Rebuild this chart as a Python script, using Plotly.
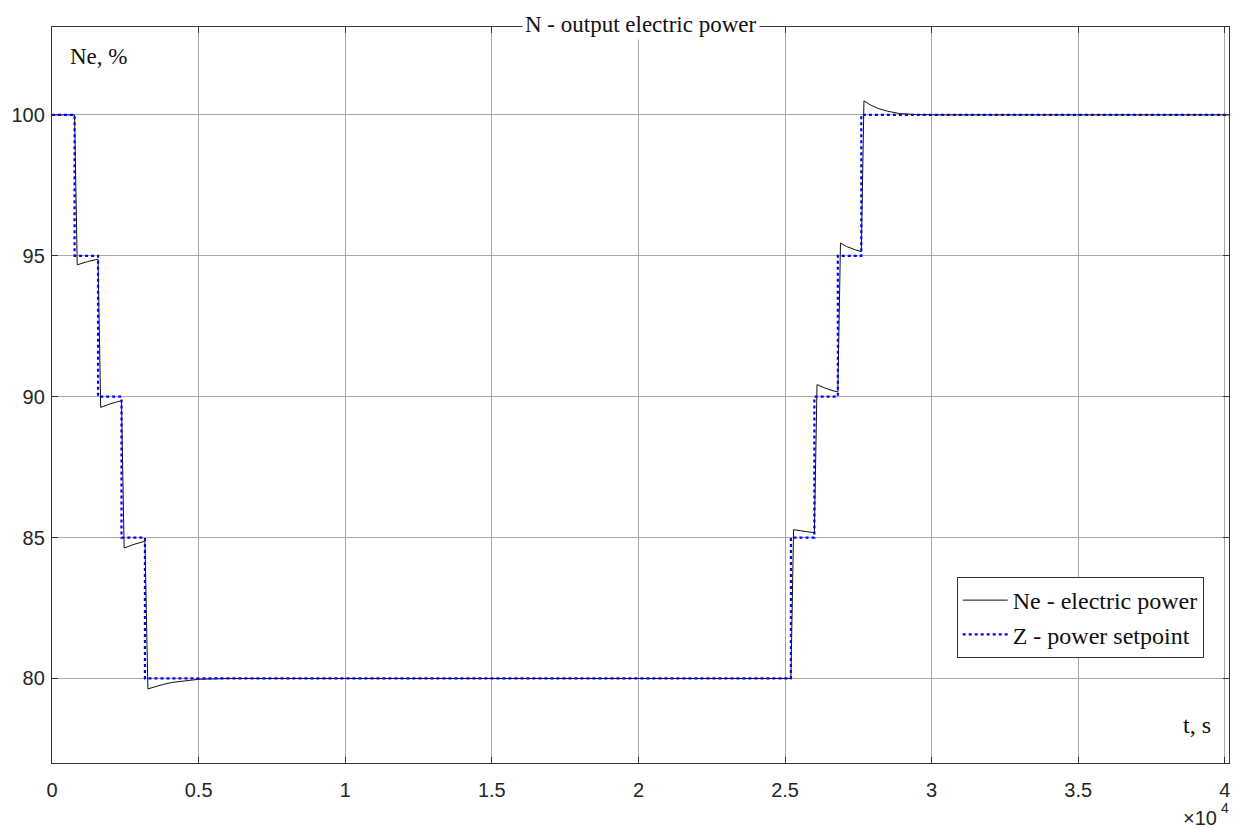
import plotly.graph_objects as go

# Z - power setpoint (step function)
z_time = [0, 770, 1570, 2370, 3170, 25200, 26000, 26800, 27600, 40140]
z_value = [100, 95, 90, 85, 80, 85, 90, 95, 100, 100]

# Ne - electric power
ne_time = [0, 770, 860, 1000, 1200, 1400, 1570,
           1660, 1800, 2000, 2200, 2370,
           2460, 2600, 2800, 3000, 3170,
           3270, 3500, 3800, 4100, 4500, 5000, 6000,
           25200, 25290, 25500, 25800, 26000,
           26090, 26300, 26600, 26800,
           26890, 27100, 27400, 27600,
           27690, 27900, 28200, 28500, 28900, 29500, 30500, 40140]
ne_value = [100, 100, 94.68, 94.73, 94.79, 94.84, 94.88,
            89.62, 89.68, 89.75, 89.81, 89.86,
            84.63, 84.69, 84.76, 84.82, 84.87,
            79.63, 79.71, 79.79, 79.86, 79.92, 79.97, 80.0,
            80.0, 85.28, 85.24, 85.20, 85.17,
            90.43, 90.33, 90.22, 90.17,
            95.45, 95.33, 95.21, 95.15,
            100.5, 100.36, 100.22, 100.13, 100.05, 100.01, 100.0, 100.0]

x_ticks = [0, 5000, 10000, 15000, 20000, 25000, 30000, 35000, 40000]
x_tick_labels = ["0", "0.5", "1", "1.5", "2", "2.5", "3", "3.5", "4"]
y_ticks = [80, 85, 90, 95, 100]

serif = "Liberation Serif, Times New Roman, serif"
sans = "Liberation Sans, Arial, sans-serif"

fig = go.Figure()
fig.add_trace(go.Scatter(x=ne_time, y=ne_value, mode="lines",
                         name="Ne - electric power",
                         line=dict(color="#111111", width=1)))
fig.add_trace(go.Scatter(x=z_time, y=z_value, mode="lines",
                         name="Z - power setpoint", line_shape="hv",
                         line=dict(color="#0000ff", width=2.2, dash="dot")))

axis_common = dict(showline=True, linecolor="#333333", linewidth=1.3,
                   mirror="ticks", ticks="inside", ticklen=6,
                   tickcolor="#333333", showgrid=True, gridcolor="#a8a8a8",
                   gridwidth=1, zeroline=False,
                   tickfont=dict(family=sans, size=20, color="#262626"))

fig.update_xaxes(range=[0, 40140], tickvals=x_ticks, ticktext=x_tick_labels,
                 ticklabelstandoff=9, **axis_common)
fig.update_yaxes(range=[77, 103.12], tickvals=y_ticks, ticklabelstandoff=2,
                 **axis_common)

fig.update_layout(
    width=1237, height=828,
    margin=dict(l=52, r=8, t=27, b=65),
    plot_bgcolor="white", paper_bgcolor="white",
    showlegend=True,
    legend=dict(x=0.9785, y=0.2527, xanchor="right", yanchor="top",
                bgcolor="white", bordercolor="#333333", borderwidth=1,
                font=dict(family=serif, size=24, color="#111111"),
                tracegroupgap=0, itemwidth=45),
    annotations=[
        dict(text="N - output electric power", xref="paper", yref="paper",
             x=0.5, y=1, xanchor="center", yanchor="middle", yshift=3,
             showarrow=False, bgcolor="white", borderpad=2,
             font=dict(family=serif, size=23, color="#111111")),
        dict(text="Ne, %", xref="paper", yref="paper", x=0.014, y=0.96,
             xanchor="left", yanchor="middle", showarrow=False,
             font=dict(family=serif, size=23, color="#111111")),
        dict(text="t, s", xref="paper", yref="paper", x=0.986, y=0.052,
             xanchor="right", yanchor="middle", showarrow=False,
             font=dict(family=serif, size=24, color="#111111")),
        dict(text="×10", xref="paper", yref="paper", x=0.9915, y=-0.0747,
             xanchor="right", yanchor="middle", showarrow=False,
             font=dict(family=sans, size=20, color="#262626")),
        dict(text="4", xref="paper", yref="paper", x=0.9915, y=-0.0605,
             xanchor="left", yanchor="middle", showarrow=False,
             font=dict(family=sans, size=14, color="#262626")),
    ],
)

fig.write_html("out.html")
